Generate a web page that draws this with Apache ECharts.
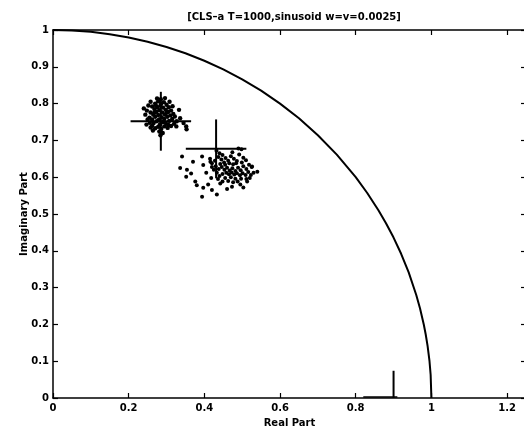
<!DOCTYPE html>
<html>
<head>
<meta charset="utf-8">
<script src="https://cdn.jsdelivr.net/npm/echarts@6/dist/echarts.min.js"></script>
<style>
  html, body { margin: 0; padding: 0; background: #fff; }
  #chart { width: 524px; height: 432px; }
</style>
</head>
<body>
<div id="chart"></div>
<script>
// Unit circle (first quadrant) as [real, imag] pairs
const unitArc = [
  [0, 1], [0.05, 0.9987], [0.1, 0.995], [0.15, 0.9887], [0.2, 0.9798], [0.25, 0.9682],
  [0.3, 0.9539], [0.35, 0.9367], [0.4, 0.9165], [0.45, 0.893], [0.5, 0.866],
  [0.55, 0.8352], [0.6, 0.8], [0.65, 0.76], [0.7, 0.7141], [0.75, 0.6614],
  [0.8, 0.6], [0.83, 0.5578], [0.86, 0.5103], [0.88, 0.475], [0.9, 0.4359],
  [0.92, 0.3919], [0.94, 0.3412], [0.96, 0.28], [0.97, 0.2431], [0.98, 0.199],
  [0.985, 0.1726], [0.99, 0.1411], [0.995, 0.0999], [0.998, 0.0632], [1, 0]
];

// Estimated pole positions, first run
const estimatesA = [
  [0.262,0.792],[0.270,0.800],[0.278,0.806],[0.285,0.812],[0.293,0.804],[0.300,0.797],
  [0.268,0.785],[0.276,0.790],[0.284,0.795],[0.291,0.789],[0.298,0.783],[0.306,0.790],
  [0.258,0.776],[0.265,0.770],[0.273,0.778],[0.281,0.782],[0.289,0.776],[0.296,0.770],
  [0.304,0.777],[0.312,0.781],[0.255,0.762],[0.262,0.757],[0.270,0.764],[0.278,0.769],
  [0.287,0.763],[0.294,0.758],[0.302,0.764],[0.310,0.768],[0.318,0.772],[0.248,0.781],
  [0.252,0.795],[0.244,0.770],[0.240,0.787],[0.266,0.747],[0.274,0.752],[0.283,0.744],
  [0.291,0.750],[0.299,0.745],[0.307,0.753],[0.315,0.758],[0.322,0.765],[0.327,0.752],
  [0.320,0.745],[0.312,0.739],[0.303,0.734],[0.294,0.738],[0.286,0.731],[0.278,0.737],
  [0.270,0.733],[0.262,0.740],[0.256,0.748],[0.281,0.724],[0.290,0.720],[0.284,0.714],
  [0.264,0.727],[0.258,0.735],[0.333,0.783],[0.336,0.760],[0.345,0.747],[0.352,0.738],
  [0.353,0.730],[0.316,0.793],[0.308,0.805],[0.296,0.815],[0.275,0.814],[0.258,0.805],
  [0.250,0.757],[0.286,0.800],[0.272,0.795],[0.300,0.775],[0.280,0.757],[0.268,0.775],
  [0.305,0.742],[0.247,0.743],[0.326,0.738]
];

// Estimated pole positions, second run
const estimatesB = [
  [0.432,0.672],[0.440,0.665],[0.448,0.660],[0.437,0.655],[0.445,0.648],[0.456,0.652],
  [0.463,0.645],[0.470,0.657],[0.478,0.650],[0.486,0.644],[0.492,0.662],[0.498,0.676],
  [0.490,0.678],[0.503,0.653],[0.510,0.646],[0.474,0.668],[0.452,0.640],[0.428,0.645],
  [0.420,0.638],[0.415,0.650],[0.430,0.630],[0.438,0.622],[0.446,0.628],[0.453,0.620],
  [0.460,0.626],[0.467,0.618],[0.474,0.624],[0.482,0.617],[0.489,0.626],[0.496,0.619],
  [0.503,0.630],[0.511,0.622],[0.518,0.634],[0.525,0.628],[0.458,0.612],[0.465,0.608],
  [0.472,0.613],[0.479,0.607],[0.486,0.611],[0.448,0.609],[0.440,0.603],[0.433,0.612],
  [0.425,0.620],[0.420,0.628],[0.494,0.605],[0.501,0.611],[0.509,0.606],[0.516,0.614],
  [0.523,0.606],[0.530,0.612],[0.476,0.635],[0.484,0.638],[0.455,0.634],[0.499,0.640],
  [0.466,0.638],[0.442,0.636],[0.470,0.600],[0.455,0.598],[0.482,0.596],[0.497,0.596],
  [0.463,0.590],[0.488,0.588],[0.511,0.595],[0.520,0.598],[0.436,0.595],[0.448,0.588],
  [0.341,0.656],[0.336,0.625],[0.354,0.620],[0.352,0.601],[0.376,0.588],[0.380,0.578],
  [0.397,0.571],[0.394,0.547],[0.433,0.553],[0.442,0.583],[0.473,0.574],[0.476,0.586],
  [0.495,0.580],[0.513,0.588],[0.526,0.629],[0.394,0.656],[0.397,0.633],[0.416,0.642],
  [0.370,0.642],[0.405,0.612],[0.418,0.598],[0.410,0.580],[0.365,0.610],[0.460,0.568],
  [0.503,0.572],[0.540,0.615],[0.420,0.565]
];

// Mean estimate of each run and the half-length of its cross arms
const crossCenters = [[0.285, 0.752], [0.431, 0.677]];
const crossHalfX = [0.08, 0.08];
const crossHalfY = [0.08, 0.08];

// True pole marker and its stem along the real axis
const trueStem = [[0.9, 0], [0.9, 0.074]];
const trueBase = [[0.82, 0.003], [0.91, 0.003]];

const xTicks = [0, 0.2, 0.4, 0.6, 0.8, 1, 1.2];
const yTicks = [0, 0.1, 0.2, 0.3, 0.4, 0.5, 0.6, 0.7, 0.8, 0.9, 1];

const FONT = '"DejaVu Sans", "Liberation Sans", Arial, sans-serif';
const INK = '#000';

const lineSeries = (data, width) => ({
  type: 'line', data, showSymbol: false, symbol: 'none', silent: true,
  lineStyle: { color: INK, width }, animation: false, z: 3
});

const crossSeries = [];
crossCenters.forEach(([cx, cy], i) => {
  crossSeries.push(lineSeries([[cx - crossHalfX[i], cy], [cx + crossHalfX[i], cy]], 2));
  crossSeries.push(lineSeries([[cx, cy - crossHalfY[i]], [cx, cy + crossHalfY[i]]], 2));
});

const scatterSeries = (data, size) => ({
  type: 'scatter', data, symbol: 'circle', symbolSize: size, silent: true,
  itemStyle: { color: INK, opacity: 1 }, animation: false, z: 4
});

const axisCommon = {
  type: 'value',
  splitLine: { show: false },
  axisLine: { show: true, onZero: false, lineStyle: { color: INK, width: 1.5 } },
  axisTick: { show: true, inside: true, length: 5, lineStyle: { color: INK, width: 1.2 } }
};

const labelStyle = { color: INK, fontFamily: FONT, fontWeight: 'bold', fontSize: 10 };

const chart = echarts.init(document.getElementById('chart'), null, { renderer: 'canvas' });
chart.setOption({
  animation: false,
  backgroundColor: '#fff',
  title: {
    text: '[CLS\u2013a T=1000,sinusoid w=v=0.0025]',
    left: 289, top: 7, textAlign: 'center',
    textStyle: { color: INK, fontFamily: FONT, fontWeight: 'bold', fontSize: 10 }
  },
  grid: { left: 53, top: 30, width: 473, height: 368, containLabel: false, outerBoundsMode: 'none' },
  xAxis: [
    Object.assign({}, axisCommon, {
      position: 'bottom', min: 0, max: 1.25, interval: xTicks[1] - xTicks[0],
      axisLabel: Object.assign({ margin: 5, showMaxLabel: false,
        formatter: v => (xTicks.some(t => Math.abs(t - v) < 1e-9) ? String(+v.toFixed(1)) : '') }, labelStyle),
      name: 'Real Part', nameLocation: 'middle', nameGap: 20, nameMoveOverlap: false,
      nameTextStyle: labelStyle
    }),
    Object.assign({}, axisCommon, {
      position: 'top', min: 0, max: 1.25, interval: xTicks[1] - xTicks[0],
      axisLabel: { show: false }
    })
  ],
  yAxis: [
    Object.assign({}, axisCommon, {
      position: 'left', min: 0, max: 1, interval: yTicks[1] - yTicks[0],
      axisLabel: Object.assign({ margin: 4,
        formatter: v => String(+v.toFixed(1)) }, labelStyle),
      name: 'Imaginary Part', nameLocation: 'middle', nameGap: 24, nameRotate: 90,
      nameMoveOverlap: false, nameTextStyle: labelStyle
    }),
    Object.assign({}, axisCommon, {
      position: 'right', min: 0, max: 1, interval: yTicks[1] - yTicks[0],
      axisLabel: { show: false }
    })
  ],
  series: [
    lineSeries(unitArc, 2),
    lineSeries(trueStem, 2),
    lineSeries(trueBase, 1.5),
    ...crossSeries,
    scatterSeries(estimatesA, 4.4),
    scatterSeries(estimatesB, 4)
  ]
});
</script>
</body>
</html>
